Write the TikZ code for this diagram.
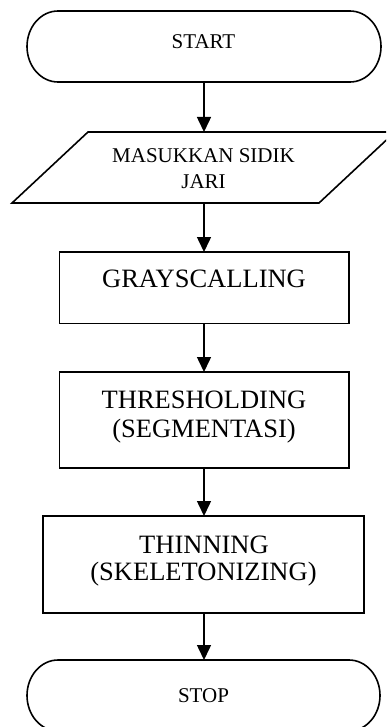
\documentclass[tikz,border=0pt]{standalone}
\usepackage{fontspec}
\setmainfont{Liberation Serif}
\usetikzlibrary{arrows.meta}
\begin{document}
\begin{tikzpicture}[x=1pt,y=-1pt,
  outline/.style={line width=1.6pt,line join=miter},
  holder/.style={draw=none,inner sep=0pt,outer sep=0pt},
  procbox/.style={draw,line width=1.6pt,inner sep=0pt,outer sep=0pt},
  flow/.style={line width=1.5pt,-{Triangle[length=15pt,width=14pt]}},
  smalltxt/.style={inner sep=0pt,anchor=base,font=\fontsize{21pt}{25pt}\selectfont},
  bigtxt/.style={inner sep=0pt,anchor=base,font=\fontsize{26.5pt}{30pt}\selectfont}]
\useasboundingbox (0,0) rectangle (386,727);
\clip (0,0) rectangle (386,727);

% START terminal
\node[holder,minimum width=354pt,minimum height=71pt] (start) at (204,46.5) {};
\draw[outline] ([xshift=31pt]start.north west) -- ([xshift=-31pt]start.north east)
  arc[start angle=90,end angle=-90,x radius=31pt,y radius=35.5pt]
  -- ([xshift=31pt]start.south west)
  arc[start angle=270,end angle=90,x radius=31pt,y radius=35.5pt] -- cycle;
\node[smalltxt] (tstart) at (203.5,49) {START};

% input parallelogram
\node[holder,minimum width=230pt,minimum height=71pt] (input) at (204,167.5) {};
\coordinate (pbl) at (12,203);
\coordinate (ptl) at (88,132);
\coordinate (ptr) at (395,132);
\coordinate (pbr) at (319,203);
\draw[outline] (pbl) -- (ptl) -- (ptr) -- (pbr) -- cycle;
\node[smalltxt] (tin1) at (203.5,162.5) {MASUKKAN SIDIK};
\node[smalltxt] (tin2) at (203.5,189) {JARI};

% GRAYSCALLING
\node[procbox,minimum width=289.5pt,minimum height=71.5pt] (gray) at (204.25,287.75) {};
\node[bigtxt] (tgray) at (204,287) {GRAYSCALLING};

% THRESHOLDING
\node[procbox,minimum width=289.5pt,minimum height=96pt] (thr) at (204.25,420) {};
\node[bigtxt] (tthr1) at (204,408) {THRESHOLDING};
\node[bigtxt] (tthr2) at (204,437) {(SEGMENTASI)};

% THINNING
\node[procbox,minimum width=321pt,minimum height=97pt] (thin) at (203.5,564.5) {};
\node[bigtxt] (tthin1) at (204,553) {THINNING};
\node[bigtxt] (tthin2) at (203.5,580) {(SKELETONIZING)};

% STOP terminal
\node[holder,minimum width=353pt,minimum height=71pt] (stop) at (203.5,695.5) {};
\draw[outline] ([xshift=31pt]stop.north west) -- ([xshift=-31pt]stop.north east)
  arc[start angle=90,end angle=-90,x radius=31pt,y radius=35.5pt]
  -- ([xshift=31pt]stop.south west)
  arc[start angle=270,end angle=90,x radius=31pt,y radius=35.5pt] -- cycle;
\node[smalltxt] (tstop) at (203.5,702) {STOP};

% connectors
\draw[flow] (start.south) -- (input.north);
\draw[flow] (input.south) -- (gray.north -| input.south);
\draw[flow] (gray.south -| input.south) -- (thr.north -| input.south);
\draw[flow] (thr.south -| input.south) -- (thin.north -| input.south);
\draw[flow] (thin.south -| input.south) -- (stop.north -| input.south);
\end{tikzpicture}
\end{document}
